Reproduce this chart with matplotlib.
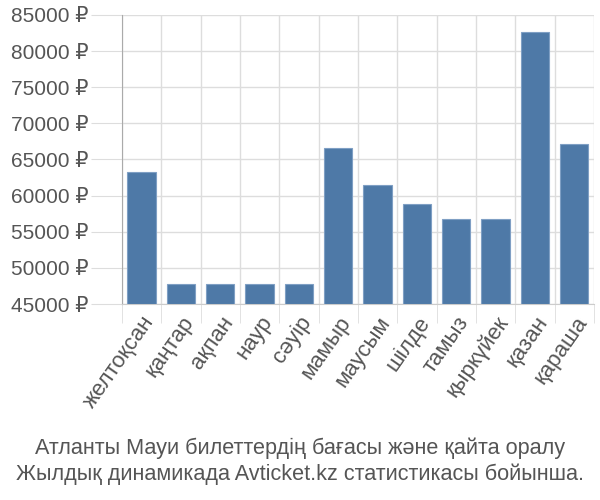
import numpy as np
import matplotlib.pyplot as plt
from matplotlib.ticker import FuncFormatter

plt.rcParams['font.family'] = ['Liberation Sans', 'DejaVu Sans']

months = ['желтоқсан', 'қаңтар', 'ақпан', 'наур', 'сәуір', 'мамыр',
          'маусым', 'шілде', 'тамыз', 'қыркүйек', 'қазан', 'қараша']
prices = [63300, 47800, 47800, 47800, 47800, 66550,
          61450, 58800, 56800, 56700, 82600, 67200]
yticks = [45000, 50000, 55000, 60000, 65000, 70000, 75000, 80000, 85000]
title = 'Атланты Мауи билеттердің бағасы және қайта оралу\nЖылдық динамикада Avticket.kz статистикасы бойынша.'

fig = plt.figure(figsize=(6, 5), dpi=100)
ax = fig.add_axes([0.203, 0.392, 0.787, 0.578])

x = np.arange(len(months))
ax.bar(x, np.array(prices) - 45000, bottom=45000, width=0.72,
       color='#4e79a7', edgecolor='#7f9fc4', linewidth=0.8, zorder=3)

ax.set_xlim(-0.5, len(months) - 0.5)
ax.set_ylim(45000, 85000)
ax.set_yticks(yticks)
ax.yaxis.set_major_formatter(FuncFormatter(lambda v, p: f'{int(v)} ₽'))

# vertical grid at category boundaries
ax.set_xticks(np.arange(-0.5, len(months)), minor=True)
ax.set_xticks(x)
ax.set_xticklabels(months, rotation=55, ha='right', va='top',
                   rotation_mode='anchor')
ax.grid(True, axis='y', color='#dddddd', linewidth=1, zorder=0)
ax.grid(True, axis='x', which='minor', color='#dddddd', linewidth=1, zorder=0)

ax.tick_params(axis='y', length=22, color='#dddddd', labelsize=15,
               labelcolor='#555555', pad=2)
ax.tick_params(axis='x', which='major', length=0, labelsize=16,
               labelcolor='#555555', pad=6)
ax.tick_params(axis='x', which='minor', length=14, color='#dddddd')

for s in ['top', 'right']:
    ax.spines[s].set_visible(False)
ax.spines['left'].set_color('#aaaaaa')
ax.spines['bottom'].set_color('#cccccc')

fig.text(0.5, 0.077, title, ha='center', va='center', fontsize=15.6,
         color='#555555', linespacing=1.3)

fig.savefig('out.png', dpi=100)
